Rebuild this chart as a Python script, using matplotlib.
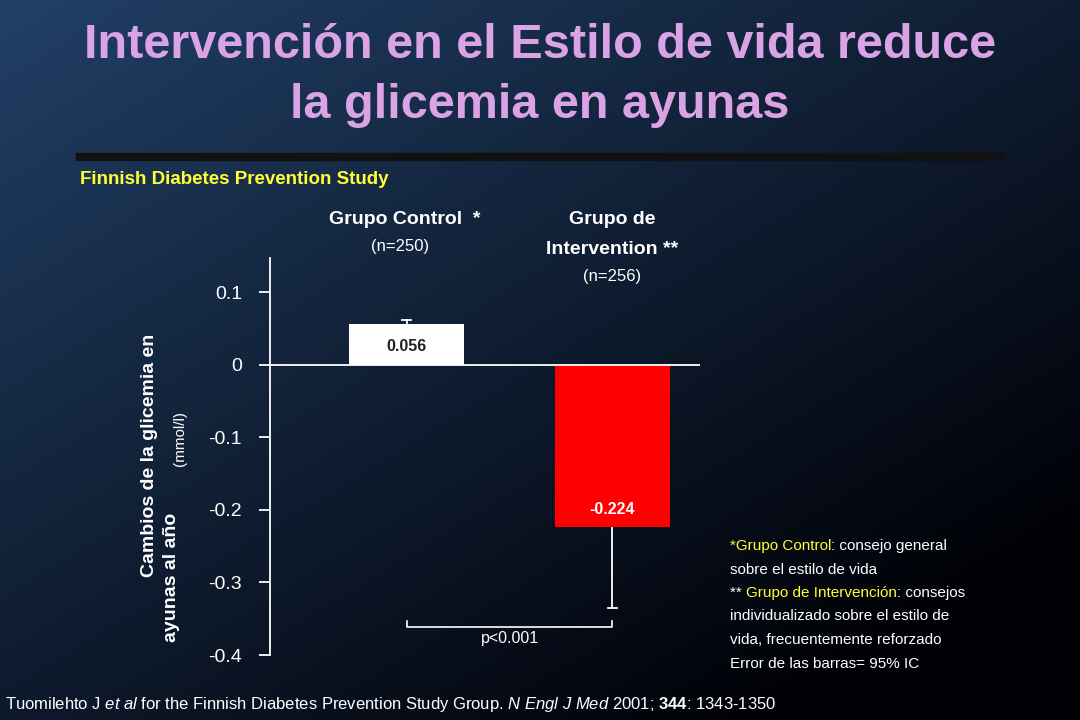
import matplotlib.pyplot as plt
import numpy as np

plt.rcParams['font.family'] = 'Liberation Sans'
plt.rcParams['mathtext.fontset'] = 'custom'
plt.rcParams['mathtext.rm'] = 'Liberation Sans'
plt.rcParams['mathtext.it'] = 'Liberation Sans:italic'
plt.rcParams['mathtext.bf'] = 'Liberation Sans:bold'

groups = ['Control', 'Intervention']
changes = [0.056, -0.224]
err_ends = [0.062, -0.335]
bar_colors = ['white', '#ff0000']
label_colors = ['#222222', 'white']
yticks = [0.1, 0, -0.1, -0.2, -0.3, -0.4]
ytick_labels = ['0.1', '0', '-0.1', '-0.2', '-0.3', '-0.4']

fig = plt.figure(figsize=(10.8, 7.2), dpi=100)

# background gradient
bg = fig.add_axes([0, 0, 1, 1])
gx = np.linspace(0, 1, 300)
gy = np.linspace(0, 1, 200)
X, Y = np.meshgrid(gx, gy)
t = np.clip(0.55 * X + 0.6 * Y, 0, 1)
top = np.array([0.13, 0.25, 0.40])
bot = np.array([0.0, 0.0, 0.02])
img = bot + (top - bot) * (1 - t)[..., None]
bg.imshow(img, aspect='auto', extent=[0, 1, 0, 1], origin='upper')
bg.axis('off')

fs = lambda px: 1 - px / 720
fig.text(0.5, fs(45), 'Intervención en el Estilo de vida reduce', ha='center', va='center',
         fontsize=35, fontweight='bold', color='#d9a3e6')
fig.text(0.5, fs(105), 'la glicemia en ayunas', ha='center', va='center',
         fontsize=35, fontweight='bold', color='#d9a3e6')
bg.plot([80 / 1080, 1000 / 1080], [fs(157), fs(157)], color='#111111', lw=6)
fig.text(80 / 1080, fs(180), 'Finnish Diabetes Prevention Study', ha='left', va='center',
         fontsize=13.5, fontweight='bold', color='#ffff33')

ax = fig.add_axes([270 / 1080, 1 - 655 / 720, 430 / 1080, (655 - 258) / 720])
ax.set_facecolor('none')
x = np.arange(len(groups))
ax.bar(x, changes, width=0.56, color=bar_colors, zorder=2)
for i in range(len(groups)):
    ax.plot([x[i], x[i]], [changes[i], err_ends[i]], color='white', lw=1.3, zorder=1)
    ax.plot([x[i] - 0.02, x[i] + 0.02], [err_ends[i]] * 2, color='white', lw=1.3)
ax.text(x[0], 0.025, '%.3f' % changes[0], ha='center', va='center', fontsize=11.5,
        fontweight='bold', color=label_colors[0], zorder=3)
ax.text(x[1], -0.2, '%.3f' % changes[1], ha='center', va='center', fontsize=11.5,
        fontweight='bold', color=label_colors[1], zorder=3)
ax.axhline(0, color='white', lw=1.3, zorder=3)
ax.set_xlim(-0.663, 1.425)
ax.set_ylim(-0.4, 0.147)
ax.set_yticks(yticks)
ax.set_yticklabels(ytick_labels)
ax.set_xticks([])
ax.tick_params(axis='y', colors='white', labelsize=14, length=8, width=1.3, pad=12)
for s in ['top', 'right', 'bottom']:
    ax.spines[s].set_visible(False)
ax.spines['left'].set_color('white')
ax.spines['left'].set_linewidth(1.3)

# significance bracket
ax.plot([x[0], x[0], x[1], x[1]], [-0.353, -0.362, -0.362, -0.353], color='white', lw=1.2)
ax.text(0.5, -0.377, 'p<0.001', ha='center', va='center', fontsize=11.5, color='white')

fig.text(405 / 1080, fs(220), 'Grupo Control  *', ha='center', va='center', fontsize=14,
         fontweight='bold', color='white')
fig.text(400 / 1080, fs(246), '(n=250)', ha='center', va='center', fontsize=12, color='white')
fig.text(612 / 1080, fs(220), 'Grupo de', ha='center', va='center', fontsize=14,
         fontweight='bold', color='white')
fig.text(612 / 1080, fs(250), 'Intervention **', ha='center', va='center', fontsize=14,
         fontweight='bold', color='white')
fig.text(612 / 1080, fs(277), '(n=256)', ha='center', va='center', fontsize=12, color='white')

fig.text(150 / 1080, fs(455), 'Cambios de la glicemia en', ha='center', va='center', fontsize=14,
         fontweight='bold', color='white', rotation=90)
fig.text(180 / 1080, fs(577), 'ayunas al año', ha='center', va='bottom',
         fontsize=14, fontweight='bold', color='white', rotation=90, rotation_mode='anchor')
fig.text(180 / 1080, fs(466), '(mmol/l)', ha='left', va='center',
         fontsize=11, color='white', rotation=90, rotation_mode='anchor')

notes = [
    [('*Grupo Control', '#ffff33'), (': consejo general', 'white')],
    [('sobre el estilo de vida', 'white')],
    [('** ', 'white'), ('Grupo de Intervención', '#ffff33'), (': consejos', 'white')],
    [('individualizado sobre el estilo de', 'white')],
    [('vida, frecuentemente reforzado', 'white')],
    [('Error de las barras= 95% IC', 'white')],
]
renderer = fig.canvas.get_renderer()
for k, line in enumerate(notes):
    xpos = 730 / 1080
    for txt, col in line:
        tt = fig.text(xpos, fs(546 + k * 23.5), txt, ha='left', va='center', fontsize=11, color=col)
        bb = tt.get_window_extent(renderer)
        xpos += bb.width / 1080

fig.text(5 / 1080, fs(704),
         'Tuomilehto J $\\it{et\\ al}$ for the Finnish Diabetes Prevention Study Group. '
         '$\\it{N\\ Engl\\ J\\ Med}$ 2001; $\\bf{344}$: 1343-1350',
         ha='left', va='center', fontsize=12, color='white')

fig.savefig('out.png', dpi=100)
